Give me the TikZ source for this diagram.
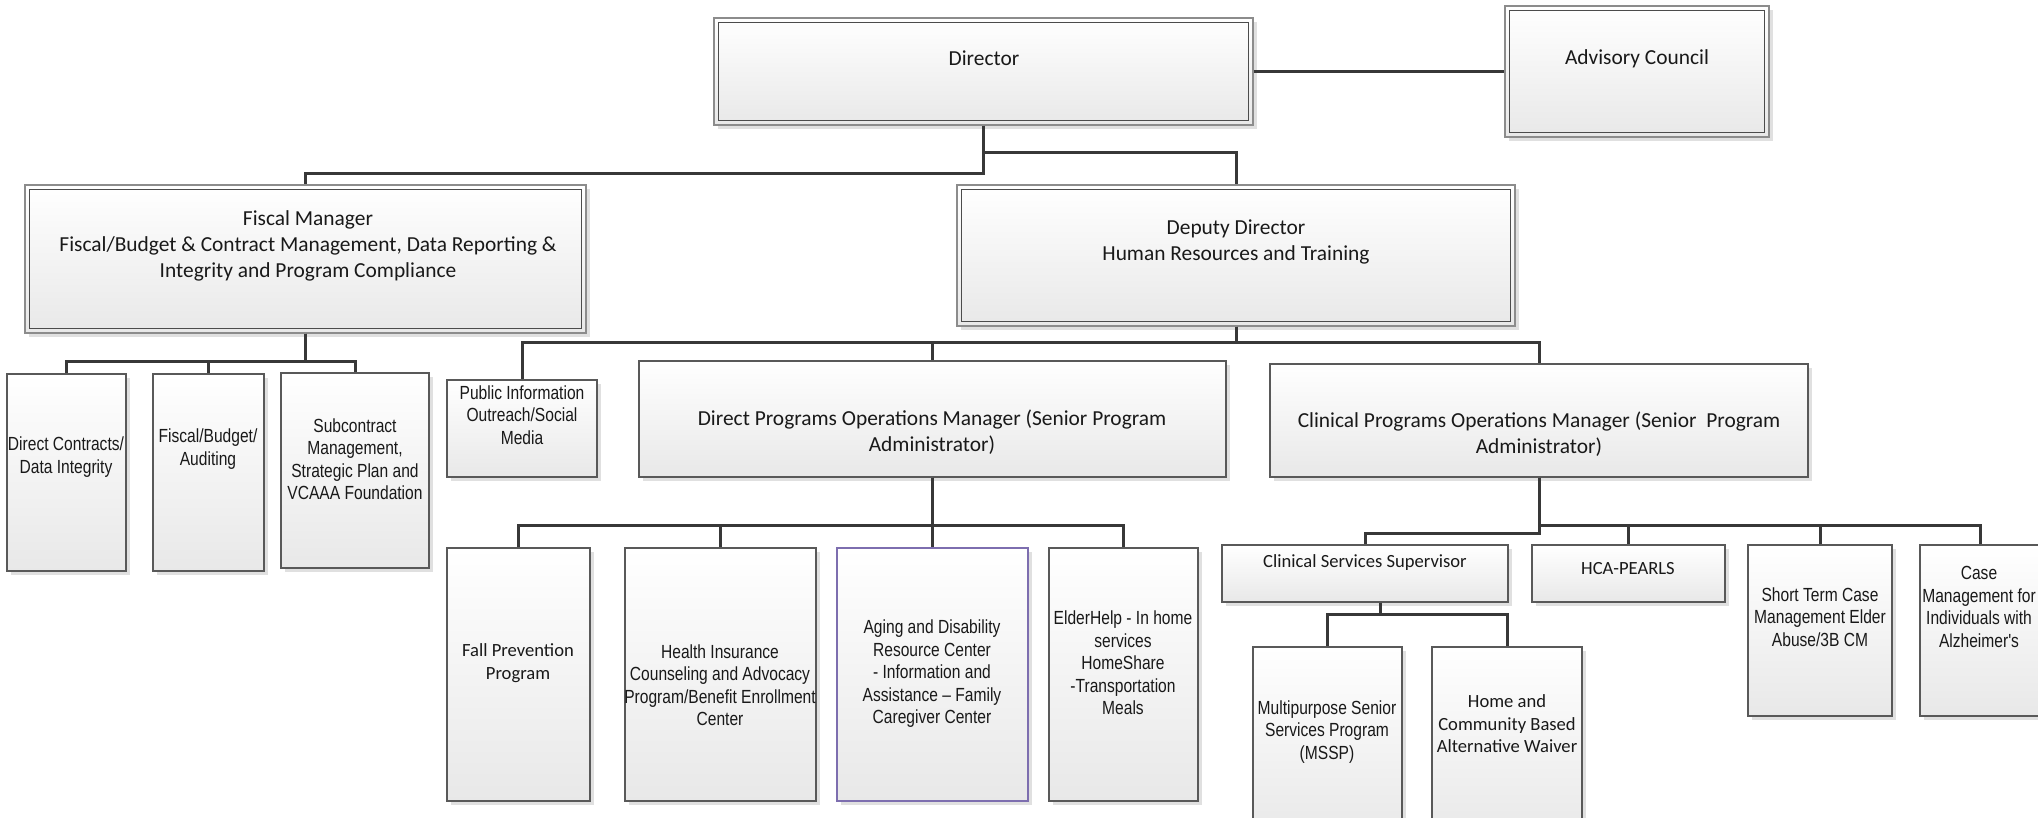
\documentclass[tikz,border=0pt]{standalone}
\usepackage{fontspec}
\setmainfont{Carlito}
\newfontfamily\narrow[FakeStretch=0.82]{Liberation Sans}
\usetikzlibrary{shadows,calc}
\definecolor{agborder}{RGB}{125,110,175}
\tikzset{
  box/.style={draw=black!65, line width=1.1pt, top color=white, bottom color=black!9,
    drop shadow={shadow xshift=4pt, shadow yshift=-4pt, fill=black!12, opacity=1}, inner sep=0pt},
  outerbox/.style={box, draw=black!45},
  purplebox/.style={box, draw=agborder},
  innerline/.style={draw=black!70, line width=1.1pt},
  conn/.style={draw=black!78, line width=3pt},
  cal/.style={font=\fontsize{21.4}{26}\selectfont, align=center, text=black!90, inner sep=0pt},
  cals/.style={font=\fontsize{18.6}{22.5}\selectfont, align=center, text=black!90, inner sep=0pt},
  nar/.style={font=\narrow\fontsize{19}{22.5}\selectfont, align=center, text=black!90, inner sep=0pt},
}
\newcommand\obox[6]{\node[#6, minimum width={#4pt-#2pt}, minimum height={#5pt-#3pt}] (#1) at ({(#2+#4)/2},{(#3+#5)/2}) {};}
\newcommand\ibox[1]{\draw[innerline] ([shift={(5,5)}]#1.north west) rectangle ([shift={(-5,-5)}]#1.south east);}
\begin{document}
\begin{tikzpicture}[x=1pt, y=-1pt]
\useasboundingbox (0,0) rectangle (2038,817);
\fill[white] (0,0) rectangle (2038,817);
\clip (0,0) rectangle (2038,817);

% top level
\obox{dir}{714}{18}{1253}{125}{outerbox} \ibox{dir}
\obox{adv}{1505}{6}{1769}{137}{outerbox} \ibox{adv}
\obox{fis}{25}{185}{586}{333}{outerbox} \ibox{fis}
\obox{dep}{957}{185}{1515}{326}{outerbox} \ibox{dep}

% fiscal children
\obox{dc}{7}{374}{126}{571}{box}
\obox{fb}{153}{374}{264}{571}{box}
\obox{sc}{281}{373}{429}{568}{box}

% deputy children
\obox{pi}{447}{380}{597}{477}{box}
\obox{dp}{639}{361}{1226}{477}{box}
\obox{cp}{1270}{364}{1808}{477}{box}

% direct programs children
\obox{fp}{447}{548}{590}{801}{box}
\obox{hi}{625}{548}{816}{801}{box}
\obox{ag}{837}{548}{1028}{801}{purplebox}
\obox{eh}{1049}{548}{1198}{801}{box}

% clinical children
\obox{css}{1222}{545}{1508}{602}{box}
\obox{hca}{1532}{545}{1725}{602}{box}
\obox{st}{1748}{545}{1892}{716}{box}
\obox{cm}{1920}{545}{2040}{716}{box}
\obox{ms}{1253}{647}{1402}{840}{box}
\obox{hc}{1432}{647}{1582}{840}{box}

% texts
\node[cal] (dir-t) at (984,58) {Director};
\node[cal] (adv-t) at (1637,59) {Advisory Council};
\node[cal] (fis-t) at (308,246) {Fiscal Manager\\Fiscal/Budget \& Contract Management, Data Reporting \&\\Integrity and Program Compliance};
\node[cal] (dep-t) at (1236,242) {Deputy Director\\Human Resources and Training};
\node[nar] (dc-t) at (66,457) {Direct Contracts/\\Data Integrity};
\node[nar] (fb-t) at (208,449) {Fiscal/Budget/\\Auditing};
\node[nar] (sc-t) at (355,459) {Subcontract\\Management,\\Strategic Plan and\\VCAAA Foundation};
\node[nar] (pi-t) at (522,415) {Public Information\\Outreach/Social\\Media};
\node[cal] (dp-t) at (932,432) {Direct Programs Operations Manager (Senior Program\\Administrator)};
\node[cal] (cp-t) at (1539,434) {Clinical Programs Operations Manager (Senior~~Program\\Administrator)};
\node[cals] (fp-t) at (518,663) {Fall Prevention\\Program};
\node[nar] (hi-t) at (720,685) {Health Insurance\\Counseling and Advocacy\\Program/Benefit Enrollment\\Center};
\node[nar] (ag-t) at (932,674) {Aging and Disability\\Resource Center\\- Information and\\Assistance – Family\\Caregiver Center};
\node[nar] (eh-t) at (1123,663) {ElderHelp - In home\\services\\HomeShare\\-Transportation\\Meals};
\node[cals] (css-t) at (1365,563) {Clinical Services Supervisor};
\node[cals] (hca-t) at (1628,569) {HCA-PEARLS};
\node[nar] (st-t) at (1820,617) {Short Term Case\\Management Elder\\Abuse/3B CM};
\node[nar] (cm-t) at (1979,607) {Case\\Management for\\Individuals with\\Alzheimer's};
\node[nar] (ms-t) at (1327,732) {Multipurpose Senior\\Services Program\\(MSSP)};
\node[cals] (hc-t) at (1507,724) {Home and\\Community Based\\Alternative Waiver};

% bus coordinates
\coordinate (busA) at (0,173);
\coordinate (busB) at (0,152);
\coordinate (busF) at (0,361);
\coordinate (busD) at (0,342);
\coordinate (busP) at (0,525);
\coordinate (busCL) at (0,533);
\coordinate (busS) at (0,614);
\coordinate (cssb) at ([xshift=15pt]css.south);

% connectors
\draw[conn] (dir.east) -- (dir.east -| adv.west);
\draw[conn] (dir.south) |- (fis.north |- busA) -- (fis.north);
\draw[conn] (dir.south |- busB) -| (dep.north);
\foreach \c in {dc,fb,sc} \draw[conn] (fis.south) |- (\c.north |- busF) -- (\c.north);
\foreach \c in {pi,dp,cp} \draw[conn] (dep.south) |- (\c.north |- busD) -- (\c.north);
\foreach \c in {fp,hi,ag,eh} \draw[conn] (dp.south) |- (\c.north |- busP) -- (\c.north);
\foreach \c in {hca,st,cm} \draw[conn] (cp.south) |- (\c.north |- busP) -- (\c.north);
\draw[conn] (cp.south) |- (css.north |- busCL) -- (css.north);
\foreach \c in {ms,hc} \draw[conn] (cssb) |- (\c.north |- busS) -- (\c.north);
\end{tikzpicture}
\end{document}
